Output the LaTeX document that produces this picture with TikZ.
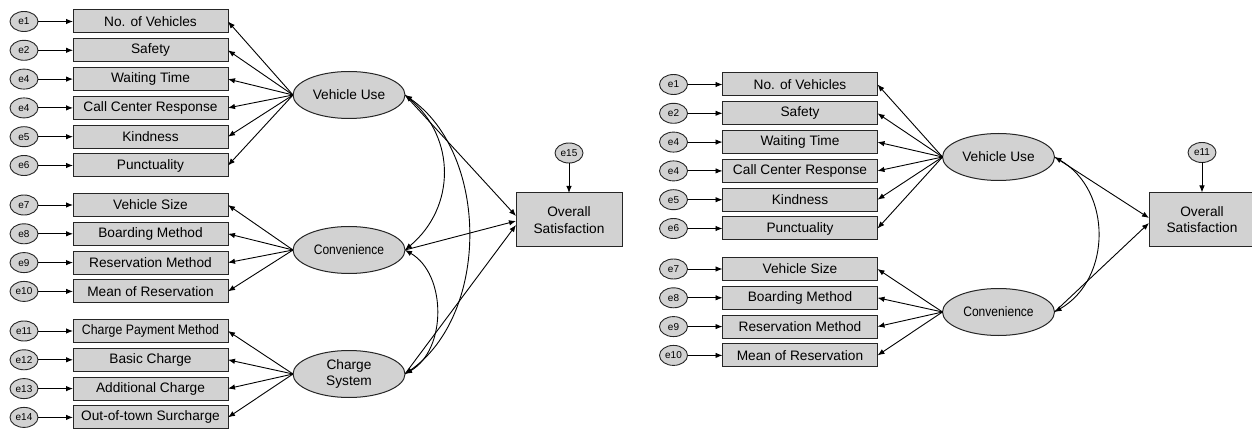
\documentclass[tikz,border=0pt]{standalone}
\usepackage{fontspec}
\setmainfont{Liberation Sans}
\usetikzlibrary{positioning,shapes.geometric,arrows.meta}

\tikzset{
	ind/.style={draw=black!85, fill=gray!35, line width=1pt, minimum width=155pt, minimum height=23pt, inner sep=0pt, outer sep=0pt, font=\fontsize{13.7}{15}\selectfont},
	err/.style={ellipse, draw=black!85, fill=gray!35, line width=0.9pt, minimum width=28pt, minimum height=20pt, inner sep=0pt, outer sep=0pt, font=\fontsize{10}{11}\selectfont},
	lat/.style={ellipse, draw=black!85, fill=gray!35, line width=1pt, minimum width=112pt, minimum height=47pt, inner sep=0pt, outer sep=0pt, align=center, font=\fontsize{13.7}{16.5}\selectfont},
	dep/.style={draw=black!85, fill=gray!35, line width=1pt, minimum width=106pt, minimum height=54pt, inner sep=0pt, outer sep=0pt, align=center, font=\fontsize{13.7}{16.5}\selectfont},
	lnk/.style={line width=0.9pt, -{Latex[length=7pt,width=5.5pt]}},
	cov/.style={line width=0.9pt, {Latex[length=7pt,width=5.5pt]}-{Latex[length=7pt,width=5.5pt]}}
}

\begin{document}
\begin{tikzpicture}[x=1pt,y=-1pt]
		\useasboundingbox (0,0) rectangle (1252,430);
		
		% first model
		\node[ind] (l1) at (150.5,21.5) {No. of Vehicles};
		\node[ind] (l2) at (150.5,50.3) {Safety};
		\node[ind] (l3) at (150.5,79.1) {Waiting Time};
		\node[ind] (l4) at (150.5,107.9) {Call Center Response};
		\node[ind] (l5) at (150.5,136.7) {Kindness};
		\node[ind] (l6) at (150.5,165.5) {Punctuality};
		\node[ind] (l7) at (150.5,205) {Vehicle Size};
		\node[ind] (l8) at (150.5,233.8) {Boarding Method};
		\node[ind] (l9) at (150.5,262.6) {Reservation Method};
		\node[ind] (l10) at (150.5,291.4) {Mean of Reservation};
		\node[ind] (l11) at (150.5,331) {\scalebox{0.9}[1]{Charge Payment Method}};
		\node[ind] (l12) at (150.5,359.8) {Basic Charge};
		\node[ind] (l13) at (150.5,388.6) {Additional Charge};
		\node[ind] (l14) at (150.5,417.4) {Out-of-town Surcharge};
		
		\node[err,left=35pt of l1] (le1) {e1};
		\node[err,left=35pt of l2] (le2) {e2};
		\node[err,left=35pt of l3] (le3) {e4};
		\node[err,left=35pt of l4] (le4) {e4};
		\node[err,left=35pt of l5] (le5) {e5};
		\node[err,left=35pt of l6] (le6) {e6};
		\node[err,left=35pt of l7] (le7) {e7};
		\node[err,left=35pt of l8] (le8) {e8};
		\node[err,left=35pt of l9] (le9) {e9};
		\node[err,left=35pt of l10] (le10) {e10};
		\node[err,left=35pt of l11] (le11) {e11};
		\node[err,left=35pt of l12] (le12) {e12};
		\node[err,left=35pt of l13] (le13) {e13};
		\node[err,left=35pt of l14] (le14) {e14};
		
		\node[lat] (vu) at (349,95) {Vehicle Use};
		\node[lat] (cv) at (349,250) {\scalebox{0.88}[1]{Convenience}};
		\node[lat] (cs) at (349,374) {Charge\\System};
		\node[dep] (os) at (569,220) {Overall\\Satisfaction};
		\node[err,above=30pt of os] (e15) {e15};
		
		\draw[lnk] (le1) -- (l1);
		\draw[lnk] (le2) -- (l2);
		\draw[lnk] (le3) -- (l3);
		\draw[lnk] (le4) -- (l4);
		\draw[lnk] (le5) -- (l5);
		\draw[lnk] (le6) -- (l6);
		\draw[lnk] (le7) -- (l7);
		\draw[lnk] (le8) -- (l8);
		\draw[lnk] (le9) -- (l9);
		\draw[lnk] (le10) -- (l10);
		\draw[lnk] (le11) -- (l11);
		\draw[lnk] (le12) -- (l12);
		\draw[lnk] (le13) -- (l13);
		\draw[lnk] (le14) -- (l14);
		
		\draw[lnk] (vu.west) -- (l1.east);
		\draw[lnk] (vu.west) -- (l2.east);
		\draw[lnk] (vu.west) -- (l3.east);
		\draw[lnk] (vu.west) -- (l4.east);
		\draw[lnk] (vu.west) -- (l5.east);
		\draw[lnk] (vu.west) -- (l6.east);
		\draw[lnk] (cv.west) -- (l7.east);
		\draw[lnk] (cv.west) -- (l8.east);
		\draw[lnk] (cv.west) -- (l9.east);
		\draw[lnk] (cv.west) -- (l10.east);
		\draw[lnk] (cs.west) -- (l11.east);
		\draw[lnk] (cs.west) -- (l12.east);
		\draw[lnk] (cs.west) -- (l13.east);
		\draw[lnk] (cs.west) -- (l14.east);
		
		\draw[lnk] (e15) -- (os);
		\draw[lnk] (vu.east) -- ([yshift=4pt]os.west);
		\draw[lnk] (cv.east) -- ([yshift=-1pt]os.west);
		\draw[lnk] (cs.east) -- ([yshift=-5pt]os.west);
		
		\draw[cov] (vu.east) to[out=-40,in=40,looseness=1.1] (cv.east);
		\draw[cov] (cv.east) to[out=-30,in=30] (cs.east);
		\draw[cov] (vu.east) to[out=-35,in=35,looseness=0.95] (cs.east);
		
		% second model
		\node[ind] (r1) at (800,84.5) {No. of Vehicles};
		\node[ind] (r2) at (800,113.3) {Safety};
		\node[ind] (r3) at (800,142.1) {Waiting Time};
		\node[ind] (r4) at (800,170.9) {Call Center Response};
		\node[ind] (r5) at (800,199.7) {Kindness};
		\node[ind] (r6) at (800,228.5) {Punctuality};
		\node[ind] (r7) at (800,269) {Vehicle Size};
		\node[ind] (r8) at (800,297.8) {Boarding Method};
		\node[ind] (r9) at (800,326.6) {Reservation Method};
		\node[ind] (r10) at (800,355.4) {Mean of Reservation};
		
		\node[err,left=35pt of r1] (re1) {e1};
		\node[err,left=35pt of r2] (re2) {e2};
		\node[err,left=35pt of r3] (re3) {e4};
		\node[err,left=35pt of r4] (re4) {e4};
		\node[err,left=35pt of r5] (re5) {e5};
		\node[err,left=35pt of r6] (re6) {e6};
		\node[err,left=35pt of r7] (re7) {e7};
		\node[err,left=35pt of r8] (re8) {e8};
		\node[err,left=35pt of r9] (re9) {e9};
		\node[err,left=35pt of r10] (re10) {e10};
		
		\node[lat] (rvu) at (998.5,157) {Vehicle Use};
		\node[lat] (rcv) at (998.5,312) {\scalebox{0.88}[1]{Convenience}};
		\node[dep] (ros) at (1202,219.5) {Overall\\Satisfaction};
		\node[err,above=30pt of ros] (re11) {e11};
		
		\draw[lnk] (re1) -- (r1);
		\draw[lnk] (re2) -- (r2);
		\draw[lnk] (re3) -- (r3);
		\draw[lnk] (re4) -- (r4);
		\draw[lnk] (re5) -- (r5);
		\draw[lnk] (re6) -- (r6);
		\draw[lnk] (re7) -- (r7);
		\draw[lnk] (re8) -- (r8);
		\draw[lnk] (re9) -- (r9);
		\draw[lnk] (re10) -- (r10);
		
		\draw[lnk] (rvu.west) -- (r1.east);
		\draw[lnk] (rvu.west) -- (r2.east);
		\draw[lnk] (rvu.west) -- (r3.east);
		\draw[lnk] (rvu.west) -- (r4.east);
		\draw[lnk] (rvu.west) -- (r5.east);
		\draw[lnk] (rvu.west) -- (r6.east);
		\draw[lnk] (rcv.west) -- (r7.east);
		\draw[lnk] (rcv.west) -- (r8.east);
		\draw[lnk] (rcv.west) -- (r9.east);
		\draw[lnk] (rcv.west) -- (r10.east);
		
		\draw[lnk] (re11) -- (ros);
		\draw[lnk] (rvu.east) -- ([yshift=1.5pt]ros.west);
		\draw[lnk] (rcv.east) -- ([yshift=-3.5pt]ros.west);
		\draw[cov] (rvu.east) to[out=-30,in=30,looseness=1.1] (rcv.east);
	\end{tikzpicture}
\end{document}
